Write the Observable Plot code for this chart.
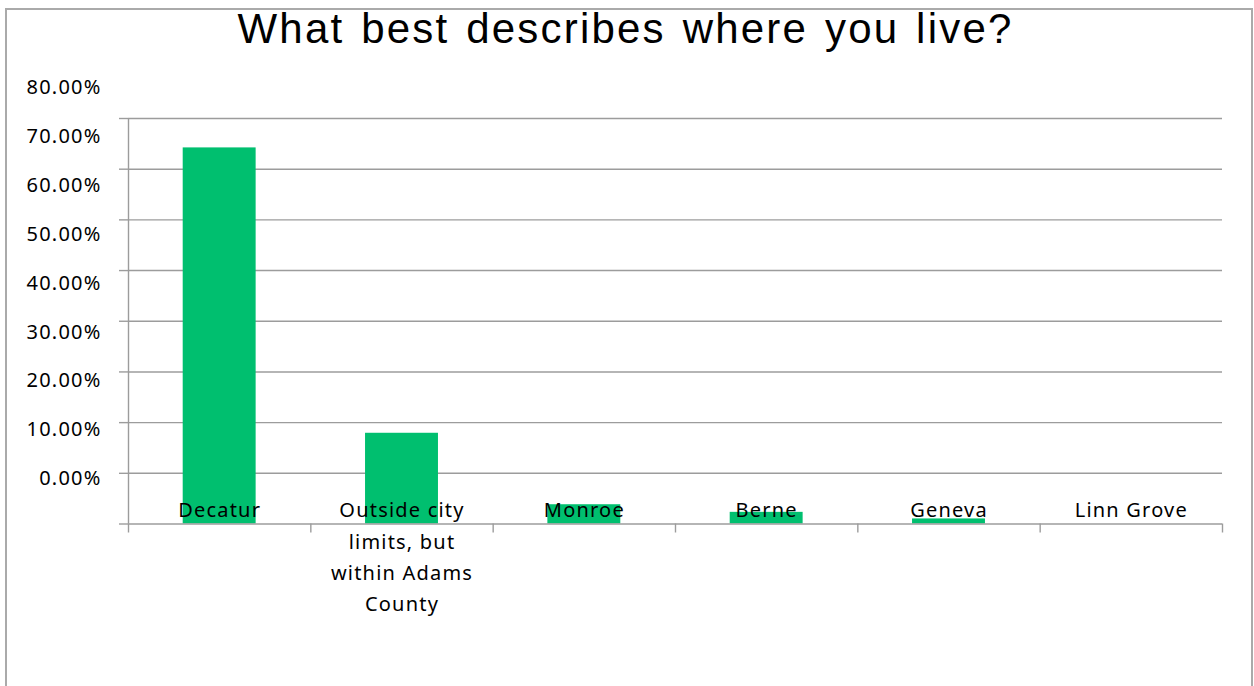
<!DOCTYPE html>
<html><head><meta charset="utf-8">
<script src="https://cdn.jsdelivr.net/npm/d3@7"></script>
<script src="https://cdn.jsdelivr.net/npm/@observablehq/plot@0.6"></script>
<style>
body{margin:0;background:#fff;}
#wrap{position:relative;width:1254px;height:686px;overflow:hidden;}
#border{position:absolute;left:5px;top:8px;width:1248px;height:720px;border:2px solid #aaa;box-sizing:border-box;pointer-events:none;}
svg text{letter-spacing:1.2px;}
</style></head><body><div id="wrap"><div id="border"></div></div>
<script>
const title = "What best describes where you live?";
const categories = ["Decatur", "Outside city limits, but within Adams County", "Monroe", "Berne", "Geneva", "Linn Grove"];
const categoryLabels = ["Decatur", "Outside city\nlimits, but\nwithin Adams\nCounty", "Monroe", "Berne", "Geneva", "Linn Grove"];
const percentages = [74.2, 17.9, 3.8, 2.3, 1.0, 0];
const yTicks = [0, 10, 20, 30, 40, 50, 60, 70, 80];
const yTickLabels = ["0.00%", "10.00%", "20.00%", "30.00%", "40.00%", "50.00%", "60.00%", "70.00%", "80.00%"];

const idx = categories.map((c, i) => i);
const boundaries = d3.range(categories.length + 1).map(i => i - 0.5);
const gridColor = "#9c9c9c";

const chart = Plot.plot({
  width: 1254,
  height: 686,
  marginLeft: 128,
  marginRight: 32,
  marginTop: 118,
  marginBottom: 162.5,
  style: {fontFamily: "'Noto Sans', sans-serif", fontSize: "20px", background: "transparent", color: gridColor},
  x: {type: "linear", domain: [-0.5, categories.length - 0.5], axis: null},
  y: {domain: [0, 80], axis: null},
  marks: [
    Plot.ruleY(yTicks.filter(d => d > 0), {stroke: gridColor, strokeWidth: 1.4}),
    Plot.rectY(percentages, {x1: (d, i) => i - 0.2, x2: (d, i) => i + 0.2, y1: 0, y2: d => d, fill: "#00BF6F"}),
    Plot.ruleY([0], {stroke: gridColor, strokeWidth: 1.4}),
    Plot.ruleX([-0.5], {stroke: gridColor, strokeWidth: 1.4}),
    Plot.axisY(yTicks, {tickSize: 9, tickFormat: () => "", stroke: gridColor, strokeWidth: 1.4, label: null}),
    Plot.axisX(boundaries, {tickSize: 9, tickFormat: () => "", stroke: gridColor, strokeWidth: 1.4, label: null}),
    Plot.text(yTicks, {
      y: d => 8.9 + 0.965 * d,
      text: (d, i) => yTickLabels[i],
      frameAnchor: "left", textAnchor: "end", dx: -27,
      fill: "black", fontSize: 20
    }),
    Plot.text(categoryLabels, {
      x: (d, i) => idx[i], text: d => d,
      frameAnchor: "bottom", lineAnchor: "top", dy: -29,
      lineHeight: 1.57, fill: "black", fontSize: 20
    }),
    Plot.text([title], {
      frameAnchor: "top", lineAnchor: "middle", dx: -50, dy: -89,
      fontSize: 42, fill: "black"
    })
  ]
});
document.getElementById("wrap").appendChild(chart);
chart.style.position = "absolute";
chart.style.left = "0";
chart.style.top = "0";
d3.select(chart).selectAll("text").filter(function() { return this.textContent === title; })
  .style("font-family", "'Liberation Sans', Arial, sans-serif")
  .style("letter-spacing", "2.2px")
  .style("word-spacing", "3px");
</script>
</body></html>
